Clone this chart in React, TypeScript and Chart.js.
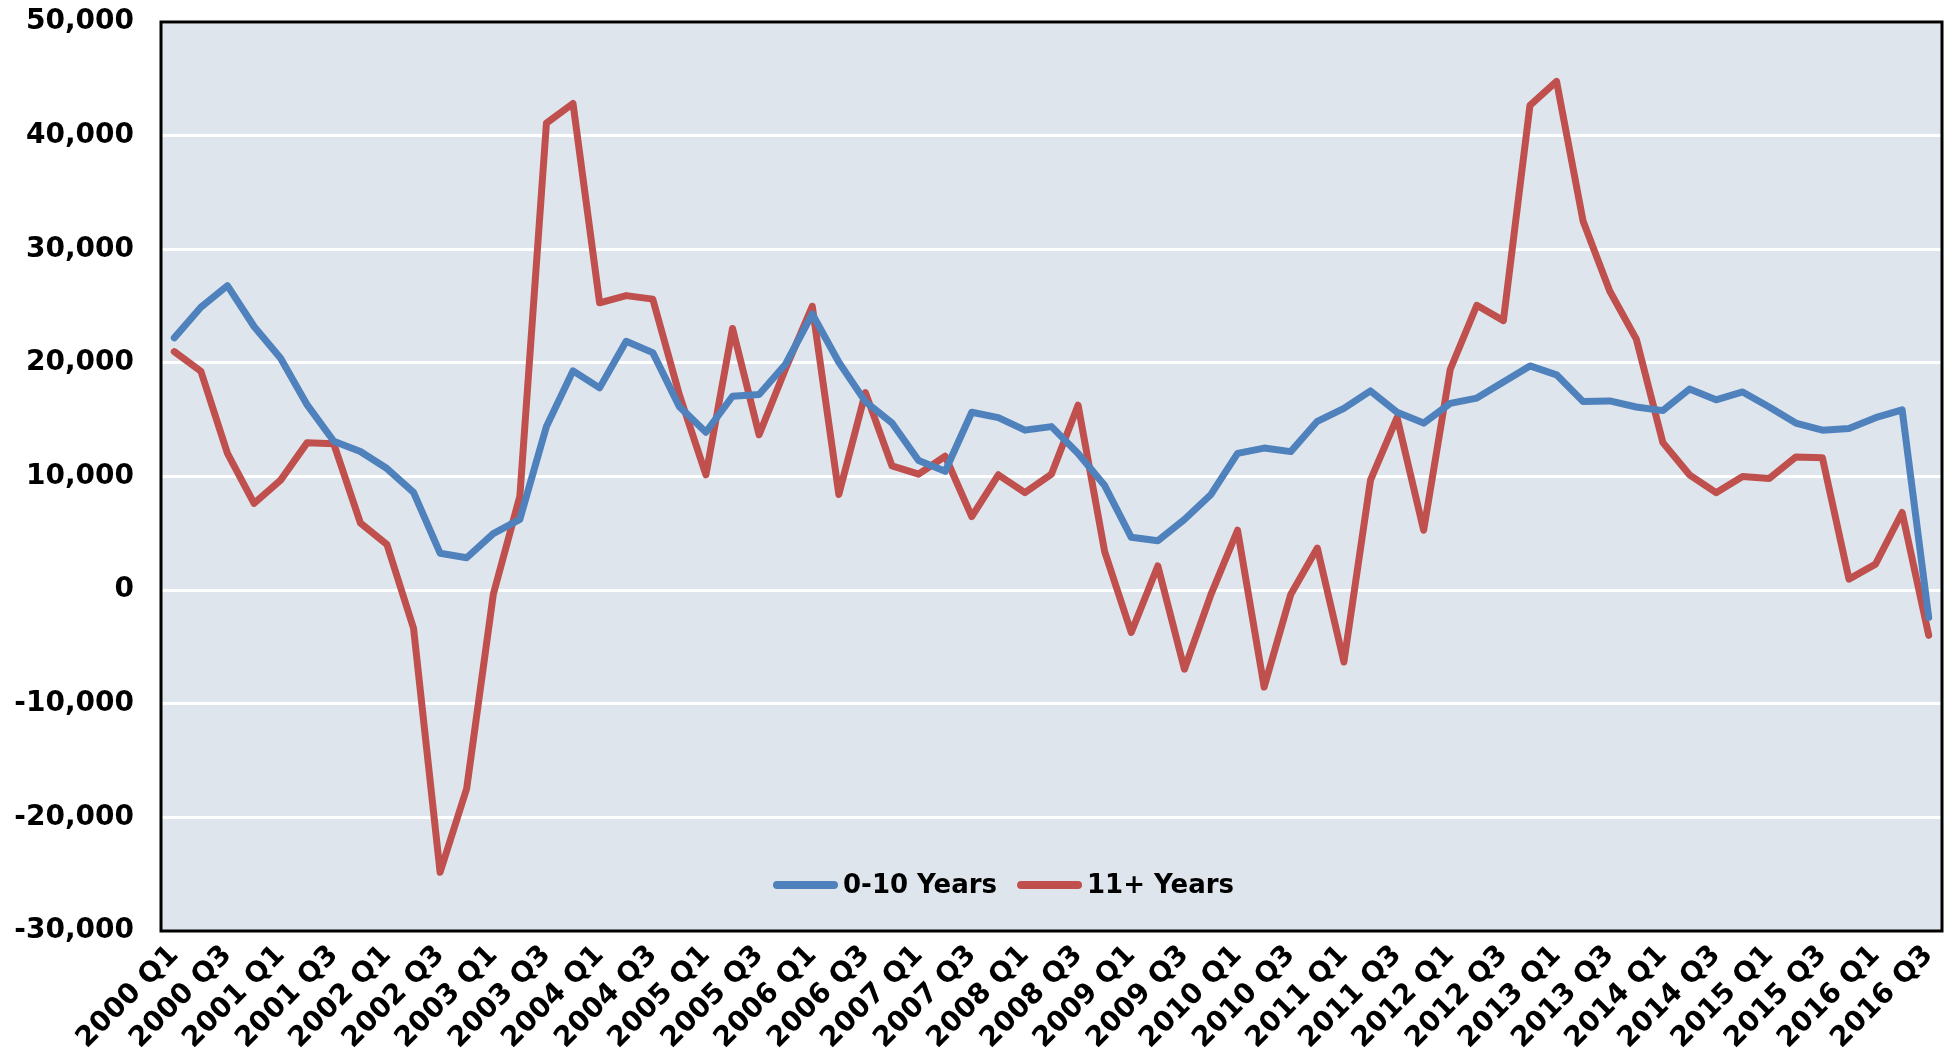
import React, { useEffect, useRef } from "react";
import { Chart, registerables } from "chart.js";

Chart.register(...registerables);

const quarters = [
  "2000 Q1", "2000 Q2", "2000 Q3", "2000 Q4",
  "2001 Q1", "2001 Q2", "2001 Q3", "2001 Q4",
  "2002 Q1", "2002 Q2", "2002 Q3", "2002 Q4",
  "2003 Q1", "2003 Q2", "2003 Q3", "2003 Q4",
  "2004 Q1", "2004 Q2", "2004 Q3", "2004 Q4",
  "2005 Q1", "2005 Q2", "2005 Q3", "2005 Q4",
  "2006 Q1", "2006 Q2", "2006 Q3", "2006 Q4",
  "2007 Q1", "2007 Q2", "2007 Q3", "2007 Q4",
  "2008 Q1", "2008 Q2", "2008 Q3", "2008 Q4",
  "2009 Q1", "2009 Q2", "2009 Q3", "2009 Q4",
  "2010 Q1", "2010 Q2", "2010 Q3", "2010 Q4",
  "2011 Q1", "2011 Q2", "2011 Q3", "2011 Q4",
  "2012 Q1", "2012 Q2", "2012 Q3", "2012 Q4",
  "2013 Q1", "2013 Q2", "2013 Q3", "2013 Q4",
  "2014 Q1", "2014 Q2", "2014 Q3", "2014 Q4",
  "2015 Q1", "2015 Q2", "2015 Q3", "2015 Q4",
  "2016 Q1", "2016 Q2", "2016 Q3",
];

const years0to10 = [
  22200, 24900, 26800, 23200,
  20400, 16300, 13100, 12200,
  10700, 8600, 3250, 2850,
  4970, 6230, 14400, 19300,
  17800, 21900, 20900, 16150,
  13900, 17060, 17220, 19900,
  24300, 20050, 16590, 14700,
  11400, 10460, 15650, 15180,
  14080, 14390, 12030, 9200,
  4650, 4340, 6220, 8420,
  12030, 12500, 12190, 14860,
  16000, 17530, 15650, 14700,
  16430, 16900, 18320, 19730,
  18950, 16590, 16650, 16120,
  15800, 17690, 16750, 17440,
  16120, 14700, 14080, 14230,
  15180, 15870, -2400,
];

const years11plus = [
  20990, 19260, 12030, 7640,
  9680, 12980, 12880, 5910,
  4020, -3350, -24830, -17460,
  -380, 8260, 41100, 42830,
  25290, 25920, 25610, 17200,
  10150, 23030, 13670, 19500,
  24980, 8420, 17380, 10930,
  10210, 11780, 6470, 10150,
  8580, 10210, 16280, 3390,
  -3730, 2130, -6960, -380,
  5270, -8530, -380, 3700,
  -6330, 9680, 15180, 5270,
  19420, 25070, 23720, 42670,
  44770, 32460, 26330, 22090,
  12980, 10150, 8580, 9990,
  9830, 11720, 11660, 970,
  2290, 6830, -3980,
];

const seriesNames = ["0-10 Years", "11+ Years"];
const seriesColors = ["#4F81BD", "#C0504D"];
const yMin = -30000;
const yMax = 50000;
const yStep = 10000;

const PLOT_BG = "#DFE5EC";
const FONT = "'DejaVu Sans', sans-serif";

export default function App() {
  const ref = useRef<HTMLCanvasElement | null>(null);

  useEffect(() => {
    const canvas = ref.current;
    if (!canvas) return;

    const plotBg = {
      id: "plotBg",
      beforeDraw(chart: any) {
        const { ctx, chartArea: a } = chart;
        ctx.save();
        ctx.fillStyle = PLOT_BG;
        ctx.fillRect(a.left, a.top, a.right - a.left, a.bottom - a.top);
        ctx.restore();
      },
    };

    const frame = {
      id: "frame",
      afterDatasetsDraw(chart: any) {
        const { ctx, chartArea: a } = chart;
        ctx.save();
        ctx.strokeStyle = "#000";
        ctx.lineWidth = 3;
        ctx.strokeRect(a.left, a.top, a.right - a.left, a.bottom - a.top);
        ctx.restore();
      },
    };

    const insideLegend = {
      id: "insideLegend",
      afterDraw(chart: any) {
        const { ctx, chartArea: a } = chart;
        ctx.save();
        ctx.font = `bold 26px ${FONT}`;
        ctx.textBaseline = "middle";
        ctx.textAlign = "left";
        let x = a.left + 612;
        const y = a.bottom - 46;
        chart.data.datasets.forEach((ds: any) => {
          ctx.strokeStyle = ds.borderColor;
          ctx.lineWidth = 8;
          ctx.lineCap = "round";
          ctx.beginPath();
          ctx.moveTo(x + 4, y);
          ctx.lineTo(x + 61, y);
          ctx.stroke();
          ctx.fillStyle = "#000";
          ctx.fillText(ds.label, x + 70, y + 1);
          x += 70 + ctx.measureText(ds.label).width + 20;
        });
        ctx.restore();
      },
    };

    const chart = new Chart(canvas, {
      type: "line",
      data: {
        labels: quarters,
        datasets: [
          {
            label: seriesNames[0],
            data: years0to10,
            borderColor: seriesColors[0],
            backgroundColor: seriesColors[0],
            borderWidth: 7,
            pointRadius: 0,
            tension: 0,
            borderJoinStyle: "round",
            borderCapStyle: "round",
          },
          {
            label: seriesNames[1],
            data: years11plus,
            borderColor: seriesColors[1],
            backgroundColor: seriesColors[1],
            borderWidth: 7,
            pointRadius: 0,
            tension: 0,
            borderJoinStyle: "round",
            borderCapStyle: "round",
          },
        ],
      },
      options: {
        animation: false,
        responsive: false,
        devicePixelRatio: 1,
        layout: { padding: { top: 22, right: 4, bottom: 0, left: 0 } },
        plugins: {
          legend: { display: false },
          tooltip: { enabled: false },
        },
        scales: {
          x: {
            offset: true,
            grid: { display: false, drawTicks: false },
            border: { display: false },
            ticks: {
              autoSkip: false,
              minRotation: 45,
              maxRotation: 45,
              padding: 8,
              color: "#000",
              font: { family: FONT, size: 28, weight: "bold" },
              callback: (_v: any, i: number) => (i % 2 === 0 ? quarters[i] : ""),
            },
            afterFit: (s: any) => {
              s.height = 129;
              s.paddingLeft = 0;
              s.paddingRight = 0;
            },
          },
          y: {
            min: yMin,
            max: yMax,
            grid: { color: "#FFFFFF", lineWidth: 3, drawTicks: false },
            border: { display: false },
            ticks: {
              stepSize: yStep,
              padding: 27,
              color: "#000",
              font: { family: FONT, size: 28, weight: "bold" },
              callback: (v: any) => Number(v).toLocaleString("en-US"),
            },
            afterFit: (s: any) => {
              s.width = 161;
              s.paddingTop = 0;
              s.paddingBottom = 0;
            },
          },
        },
      },
      plugins: [plotBg, frame, insideLegend],
    } as any);

    return () => chart.destroy();
  }, []);

  return (
    <div
      style={{
        position: "fixed",
        left: 0,
        top: 0,
        width: 1946,
        height: 1060,
        background: "#fff",
      }}
    >
      <canvas ref={ref} width={1946} height={1060} style={{ display: "block" }} />
    </div>
  );
}
